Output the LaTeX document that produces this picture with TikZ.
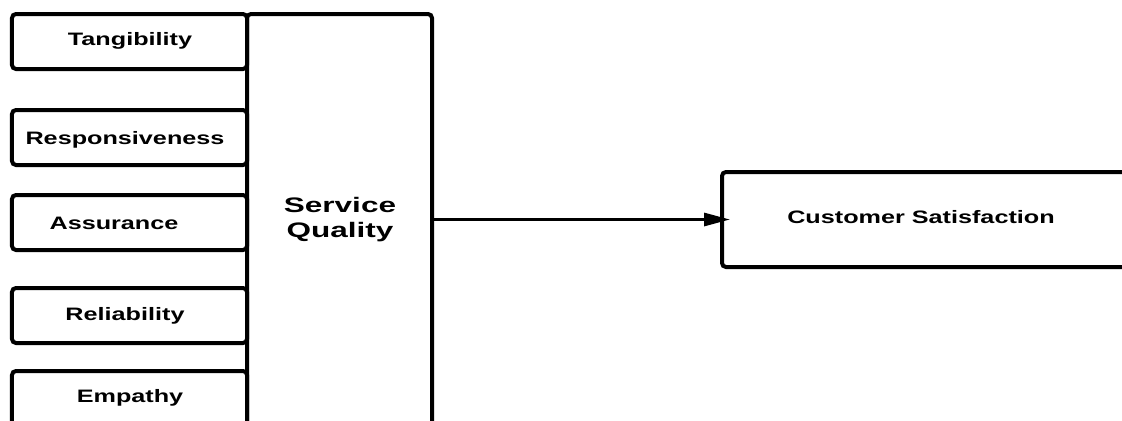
\documentclass[tikz,border=0pt]{standalone}
\usepackage{fontspec}
\setmainfont{Liberation Sans}
\usepackage{graphicx}
\usetikzlibrary{arrows.meta}
\begin{document}
\begin{tikzpicture}[x=1bp,y=-1bp,
  box/.style={draw, line width=4bp, rounded corners=4bp, inner sep=0pt},
  lbl/.style={anchor=base, inner sep=0pt, font=\bfseries\fontsize{18bp}{20bp}\selectfont},
  big/.style={anchor=base, inner sep=0pt, font=\bfseries\fontsize{21bp}{24bp}\selectfont},
  conn/.style={line width=3bp, -{Triangle[length=26bp,width=13bp]}}
]
\useasboundingbox (0,0) rectangle (1122,420);
\clip (0,0) rectangle (1122,420);
% boxes
\node[box, minimum width=235bp, minimum height=55bp] (tan) at (129.5,41.5) {};
\node[box, minimum width=235bp, minimum height=55bp] (res) at (129.5,137.5) {};
\node[box, minimum width=235bp, minimum height=55bp] (ass) at (129.5,222.5) {};
\node[box, minimum width=235bp, minimum height=55bp] (rel) at (129.5,315.5) {};
\node[box, minimum width=235bp, minimum height=69bp] (emp) at (129.5,405.5) {};
\node[box, minimum width=185bp, minimum height=426bp] (sq) at (339.5,227) {};
\node[box, minimum width=440bp, minimum height=95bp] (cs) at (942,219.5) {};
% labels
\node[lbl] (tant) at (130,45) {\scalebox{1.4}[1]{Tangibility}};
\node[lbl] (rest) at (125,144) {\scalebox{1.4}[1]{Responsiveness}};
\node[lbl] (asst) at (114,229) {\scalebox{1.4}[1]{Assurance}};
\node[lbl] (relt) at (125,320) {\scalebox{1.4}[1]{Reliability}};
\node[lbl] (empt) at (130,402) {\scalebox{1.4}[1]{Empathy}};
\node[big] (sqt1) at (340,212) {\scalebox{1.5}[1]{Service}};
\node[big] (sqt2) at (340,237) {\scalebox{1.5}[1]{Quality}};
\node[lbl] (cst) at (921,223) {\scalebox{1.4}[1]{Customer Satisfaction}};
% connector
\draw[conn] (sq.east |- cs.west) -- ([xshift=10bp]cs.west);
\end{tikzpicture}
\end{document}
